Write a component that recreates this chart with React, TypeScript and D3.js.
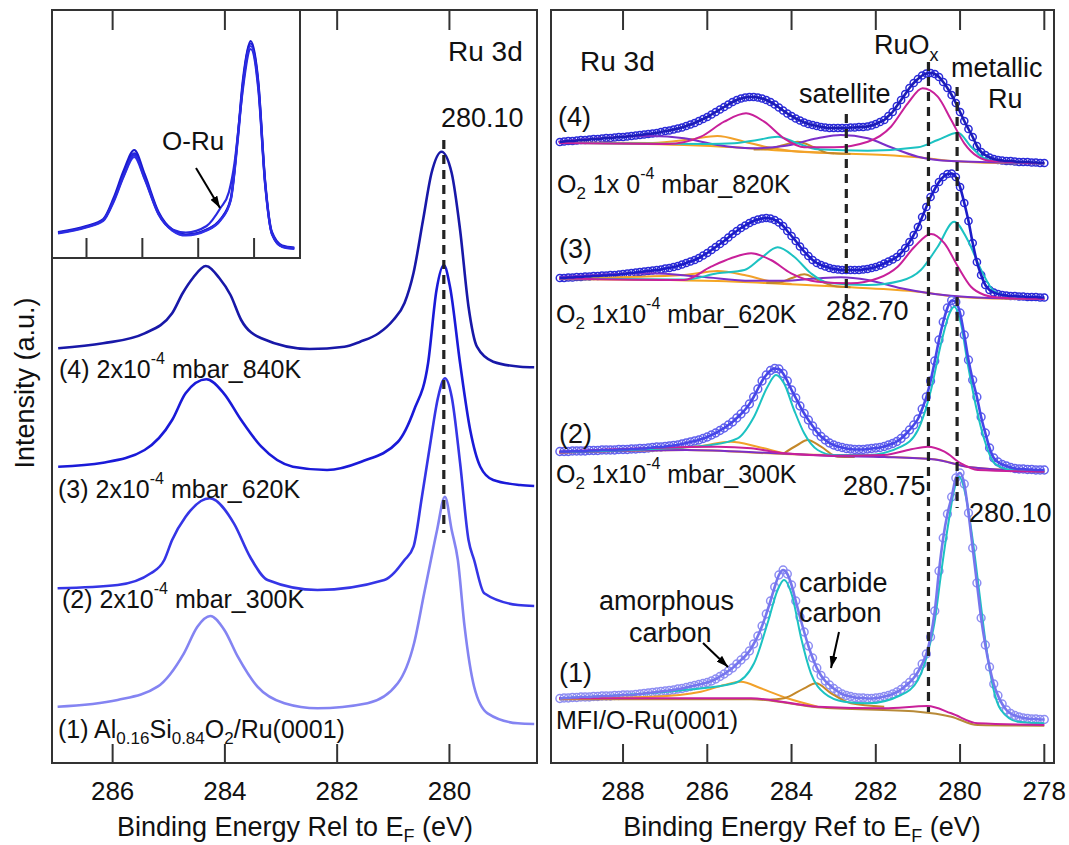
import React from 'react';
import * as d3 from 'd3';

const FONT = '"Liberation Sans", Arial, Helvetica, sans-serif';

// ---- left panel: Ru 3d, binding energy (eV) vs intensity (offset a.u.)
const ticksLeft = [286, 284, 282, 280];
const leftColors = ['#1818a8', '#1a1ad8', '#3535e6', '#8484f2'];

const left4 = [[286.97,41.47],[286.17,41.97],[285.43,42.97],[284.94,44.97],[284.75,47.0],[284.57,48.5],[284.34,49.7],[284.10,48.5],[283.90,46.8],[283.71,44.3],[283.35,42.47],[282.49,41.4],[281.87,41.63],[281.59,42.13],[281.26,42.97],[281.0,44.3],[280.8,46.0],[280.64,49.0],[280.47,54.3],[280.32,58.97],[280.14,61.13],[279.96,59.0],[279.81,53.3],[279.66,45.63],[279.51,41.63],[279.22,40.13],[278.74,39.63],[278.49,39.57]];
const left3 = [[286.97,29.63],[286.17,30.03],[285.43,31.3],[284.94,34.3],[284.70,36.97],[284.33,38.37],[284.02,36.97],[283.71,34.3],[283.35,31.63],[282.79,29.63],[282.18,29.3],[281.57,30.13],[280.92,32.1],[280.63,35.3],[280.38,40.0],[280.23,47.3],[280.10,49.8],[279.99,47.63],[279.81,39.97],[279.63,33.3],[279.45,29.63],[279.22,28.3],[278.74,27.8],[278.49,27.7]];
const left2 = [[286.98,17.47],[285.91,17.8],[285.32,18.97],[285.08,20.3],[284.94,22.3],[284.70,24.63],[284.27,26.47],[283.84,23.97],[283.55,20.6],[283.24,18.3],[282.35,17.3],[281.16,18.3],[280.80,20.3],[280.64,21.63],[280.49,26.63],[280.35,31.63],[280.20,36.63],[280.08,38.47],[279.96,36.63],[279.81,30.0],[279.66,22.3],[279.56,20.3],[279.38,16.97],[278.78,15.8],[278.49,15.7]];
const left1 = [[286.98,5.63],[285.91,6.3],[285.20,7.63],[284.73,10.97],[284.49,13.63],[284.26,14.7],[284.01,13.3],[283.77,10.63],[283.42,7.63],[282.94,5.97],[282.35,5.47],[281.46,5.97],[280.92,7.97],[280.63,11.97],[280.45,16.97],[280.33,20.3],[280.22,23.3],[280.08,26.63],[279.96,23.3],[279.85,20.3],[279.73,13.63],[279.56,7.63],[279.32,4.97],[278.78,3.97],[278.49,3.9]];

// inset: the four spectra overlaid
const insetA = [[287.02,2.53],[286.01,3.13],[285.40,3.8],[285.03,5.8],[284.66,8.47],[284.29,10.47],[283.92,8.13],[283.42,4.47],[282.93,2.8],[282.44,2.3],[281.70,2.8],[281.21,3.8],[280.84,5.8],[280.59,11.8],[280.40,17.47],[280.12,21.47],[279.85,17.47],[279.60,7.47],[279.36,2.47],[278.99,1.13],[278.56,0.97]];
const insetB = [[287.02,2.6],[286.01,3.2],[285.40,3.9],[285.03,6.0],[284.66,8.8],[284.29,10.8],[283.92,8.4],[283.42,4.6],[282.93,2.85],[282.44,2.35],[281.70,2.85],[281.21,3.85],[280.84,5.9],[280.59,12.0],[280.40,17.8],[280.12,21.7],[279.85,17.7],[279.60,7.6],[279.36,2.6],[278.99,1.25],[278.56,1.05]];
const insetC = [[287.02,2.45],[286.01,3.05],[285.40,3.7],[285.03,5.6],[284.66,8.2],[284.29,10.1],[283.92,7.9],[283.42,4.35],[282.93,2.75],[282.44,2.25],[281.70,2.75],[281.21,3.75],[280.84,5.7],[280.59,11.6],[280.40,17.2],[280.12,21.2],[279.85,17.2],[279.60,7.3],[279.36,2.4],[278.99,1.1],[278.56,0.9]];
const insetD = [[287.02,2.5],[286.01,3.1],[285.40,3.8],[285.03,5.7],[284.66,8.3],[284.29,10.3],[283.92,8.0],[283.42,4.4],[282.93,2.85],[282.44,2.55],[281.70,3.2],[281.21,4.97],[280.90,6.6],[280.70,9.5],[280.50,14.5],[280.40,16.9],[280.12,20.9],[279.85,16.9],[279.60,7.2],[279.36,2.4],[278.99,1.15],[278.56,1.0]];
const insetColors = ['#2222dd', '#1a1ad0', '#3030e8', '#2a2ae0'];

// ---- right panel: fitted spectra, data sampled every 0.1 eV from 289.5 to 278.0
const ticksRight = [288, 286, 284, 282, 280, 278];
const gridE = d3.range(116).map(i => +(289.5 - 0.1 * i).toFixed(1));

const data4 = [62.1,62.15,62.2,62.2,62.25,62.3,62.3,62.35,62.4,62.4,62.45,62.5,62.5,62.55,62.6,62.6,62.65,62.7,62.75,62.8,62.85,62.9,62.95,63.0,63.1,63.2,63.25,63.35,63.45,63.55,63.7,63.85,64.0,64.2,64.4,64.6,64.85,65.1,65.35,65.6,65.85,66.1,66.3,66.45,66.55,66.6,66.6,66.55,66.45,66.3,66.1,65.85,65.55,65.25,64.95,64.7,64.45,64.25,64.05,63.9,63.8,63.7,63.6,63.55,63.5,63.5,63.5,63.5,63.5,63.55,63.55,63.6,63.6,63.65,63.75,63.9,64.1,64.3,64.7,65.1,65.7,66.3,66.9,67.5,68.0,68.4,68.75,68.95,69.0,68.9,68.6,68.1,67.5,66.8,66.0,65.1,64.2,63.4,62.6,61.7,61.1,60.8,60.55,60.4,60.3,60.25,60.2,60.2,60.15,60.1,60.1,60.1,60.05,60.05,60.0,60.0];
const data3 = [48.5,48.5,48.55,48.55,48.6,48.6,48.65,48.65,48.7,48.7,48.75,48.75,48.8,48.8,48.85,48.9,48.95,49.0,49.05,49.1,49.15,49.2,49.25,49.3,49.35,49.45,49.5,49.6,49.7,49.85,50.0,50.15,50.3,50.5,50.75,51.0,51.3,51.6,51.9,52.2,52.55,52.9,53.2,53.5,53.75,54.0,54.2,54.35,54.45,54.5,54.45,54.3,54.05,53.7,53.2,52.7,52.2,51.65,51.15,50.7,50.3,50.0,49.8,49.65,49.5,49.4,49.35,49.3,49.3,49.3,49.3,49.3,49.35,49.4,49.5,49.6,49.75,49.95,50.15,50.35,50.6,51.0,51.5,52.1,52.8,53.6,54.6,55.6,56.6,57.4,58.1,58.6,58.9,58.95,58.6,57.6,56.0,54.2,52.0,50.1,48.8,47.8,47.3,47.05,46.9,46.8,46.75,46.7,46.7,46.65,46.65,46.6,46.6,46.6,46.55,46.55];
const data2 = [31.15,31.15,31.15,31.2,31.2,31.2,31.2,31.25,31.25,31.25,31.3,31.3,31.3,31.3,31.35,31.35,31.35,31.4,31.4,31.45,31.45,31.5,31.55,31.6,31.6,31.65,31.7,31.75,31.8,31.9,32.0,32.1,32.2,32.3,32.45,32.6,32.8,33.0,33.25,33.5,33.8,34.1,34.5,34.9,35.35,35.9,36.6,37.4,38.2,38.8,39.25,39.45,39.4,38.95,38.2,37.3,36.5,35.7,34.95,34.3,33.7,33.1,32.65,32.3,32.0,31.8,31.65,31.55,31.45,31.4,31.35,31.35,31.35,31.4,31.45,31.5,31.55,31.65,31.8,31.95,32.15,32.45,32.85,33.3,33.8,34.4,35.4,36.6,38.2,40.2,42.3,44.1,45.5,46.25,46.1,45.0,42.8,40.3,38.3,36.6,34.6,33.0,31.5,30.5,30.1,29.85,29.7,29.55,29.45,29.4,29.4,29.35,29.35,29.3,29.3,29.3];
const data1 = [6.45,6.5,6.5,6.55,6.55,6.6,6.6,6.6,6.65,6.65,6.7,6.7,6.7,6.75,6.75,6.8,6.8,6.8,6.85,6.9,6.95,7.0,7.05,7.1,7.15,7.2,7.25,7.3,7.4,7.45,7.55,7.65,7.75,7.85,7.95,8.05,8.2,8.4,8.65,8.9,9.2,9.5,9.9,10.3,10.7,11.2,11.9,12.7,13.7,14.9,16.2,17.6,18.8,19.3,18.9,17.8,16.2,14.6,13.1,11.7,10.5,9.5,8.75,8.2,7.8,7.45,7.15,6.9,6.75,6.65,6.55,6.5,6.5,6.45,6.45,6.5,6.55,6.65,6.75,6.9,7.1,7.35,7.7,8.05,8.5,9.1,9.9,10.9,12.6,15.2,19.2,22.5,24.9,26.6,28.5,29.0,27.9,25.0,21.5,18.0,14.5,11.8,9.6,7.9,6.75,5.9,5.3,4.95,4.75,4.6,4.5,4.45,4.4,4.4,4.35,4.35];

// fit components (E, intensity) for each spectrum
const base4 = [[289.52,62.03],[286.55,61.8],[285.36,61.57],[284.18,61.23],[282.99,60.97],[281.80,60.8],[281.0,60.57],[280.21,60.2],[279.42,60.03],[278.0,59.97]];
const mag4 = [[289.52,62.0],[286.94,61.9],[286.15,62.63],[285.60,64.13],[285.08,64.97],[284.65,64.13],[284.18,62.47],[283.70,61.57],[282.99,61.57],[282.19,62.13],[281.64,63.63],[281.24,65.97],[280.89,67.47],[280.53,66.63],[280.21,64.3],[279.90,61.97],[279.58,60.63],[279.26,60.2],[278.0,59.97]];
const cyan4 = [[289.52,62.0],[286.0,61.9],[285.36,61.97],[284.81,62.3],[284.33,62.63],[283.86,61.97],[283.38,61.37],[282.19,61.23],[281.0,61.57],[280.53,62.3],[280.05,63.03],[279.74,61.63],[279.42,60.47],[279.03,60.13],[278.0,59.97]];
const purp4 = [[289.54,62.13],[287.34,62.7],[286.55,62.47],[285.76,61.8],[284.96,61.47],[284.18,61.7],[283.38,62.47],[282.83,62.8],[282.19,62.47],[281.64,61.57],[281.0,60.63],[280.21,60.2],[278.0,59.97]];
const amor4 = [[289.52,62.03],[287.3,62.0],[286.39,62.37],[285.76,62.7],[285.12,62.13],[284.57,61.57],[284.0,61.2],[282.99,60.97]];
const carb4 = [[284.9,61.35],[284.57,61.4],[284.18,61.8],[283.86,62.13],[283.46,61.57],[283.14,61.0],[282.6,60.9]];

const base3 = [[289.52,48.4],[285.76,48.2],[284.18,47.9],[282.59,47.57],[281.0,47.13],[280.21,46.7],[279.42,46.47],[278.0,46.4]];
const mag3 = [[289.52,48.45],[286.55,48.3],[285.91,49.63],[285.44,50.47],[284.96,50.97],[284.49,50.3],[284.01,48.97],[283.38,48.13],[282.59,47.97],[281.95,48.47],[281.48,49.63],[281.08,51.63],[280.69,52.9],[280.37,51.97],[280.05,49.63],[279.74,47.63],[279.42,46.8],[279.1,46.55],[278.0,46.4]];
const cyan3 = [[289.52,48.45],[286.5,48.35],[285.76,48.97],[285.12,49.3],[284.73,50.47],[284.33,51.57],[283.94,50.63],[283.54,48.97],[283.14,48.03],[282.19,47.8],[281.40,48.23],[280.93,49.3],[280.53,51.63],[280.14,54.13],[279.82,52.3],[279.50,49.3],[279.18,47.13],[278.79,46.63],[278.0,46.45]];
const purp3 = [[289.52,48.57],[287.34,48.97],[286.15,48.63],[284.96,48.23],[284.18,48.23],[283.38,48.47],[282.83,48.57],[282.19,48.3],[281.40,47.47],[280.61,46.9],[279.82,46.6],[278.0,46.4]];
const amor3 = [[289.0,48.5],[286.55,48.8],[285.76,49.2],[285.12,48.8],[284.57,48.23],[284.0,47.9]];
const carb3 = [[284.6,48.0],[284.33,48.03],[284.01,48.47],[283.70,48.87],[283.38,48.3],[282.99,47.7],[282.6,47.57]];

const base2 = [[289.52,31.03],[286.5,31.3],[284.18,30.9],[281.80,30.63],[280.61,30.37],[279.82,29.63],[278.0,29.13]];
const mag2 = [[289.52,31.13],[285.76,31.63],[284.96,31.47],[284.18,30.97],[282.99,30.73],[281.80,30.8],[281.16,31.37],[280.77,31.63],[280.37,31.13],[279.98,29.97],[279.58,29.3],[278.0,29.13]];
const cyan2 = [[289.52,31.1],[286.94,31.47],[285.91,31.8],[285.28,32.47],[284.89,34.63],[284.57,37.63],[284.37,38.8],[284.18,37.97],[283.94,35.3],[283.70,32.97],[283.38,31.3],[282.99,30.8],[282.19,30.8],[281.40,31.63],[281.0,33.3],[280.69,37.3],[280.45,41.97],[280.25,44.97],[280.14,45.63],[279.98,43.97],[279.82,39.97],[279.62,35.63],[279.42,32.3],[279.18,29.97],[278.79,29.3],[278.0,29.13]];
const purp2 = [[289.52,31.05],[286.5,31.3],[284.5,31.0],[283.0,30.7],[281.8,30.6],[280.6,30.35],[279.8,29.6],[278.0,29.13]];
const amor2 = [[287.3,31.37],[286.15,31.7],[285.44,32.13],[284.81,31.63],[284.18,30.97]];
const carb2 = [[284.18,30.97],[283.86,31.8],[283.62,32.3],[283.30,31.63],[282.91,30.63],[282.5,30.6]];

const base1 = [[289.52,6.37],[284.96,6.37],[283.38,5.57],[281.0,5.13],[280.21,4.63],[279.58,3.8],[278.0,3.73]];
const mag1 = [[289.52,6.47],[284.96,6.47],[283.38,5.63],[281.80,5.47],[280.77,5.7],[280.21,4.97],[279.58,3.97],[278.0,3.8]];
const cyan1 = [[289.52,6.47],[286.55,7.3],[285.36,7.97],[284.89,9.97],[284.57,13.97],[284.33,17.3],[284.18,18.3],[283.98,16.63],[283.78,12.63],[283.54,8.97],[283.22,6.97],[282.75,6.13],[282.19,5.97],[281.40,6.8],[281.0,8.3],[280.77,10.97],[280.61,13.97],[280.45,18.97],[280.29,23.63],[280.14,27.3],[280.02,28.63],[279.86,26.63],[279.70,22.3],[279.54,16.97],[279.38,11.63],[279.22,7.63],[279.03,5.3],[278.63,4.13],[278.0,3.97]];
const amor1 = [[289.52,6.45],[287.3,6.63],[286.15,7.13],[285.60,7.8],[285.20,8.13],[284.73,7.47],[284.10,6.47],[283.38,5.63]];
const carb1 = [[284.6,6.3],[284.18,6.47],[283.70,7.47],[283.42,7.97],[283.06,6.97],[282.59,5.97],[281.8,5.63]];

const spectra = [
  { data: data4, circle: '#2b2bd8', fit: '#1c1cb8', r: 3.6, parts: [base4, amor4, carb4, purp4, cyan4, mag4], baseColor: '#f5a623' },
  { data: data3, circle: '#2b2bd8', fit: '#1c1cc8', r: 3.6, parts: [base3, amor3, carb3, purp3, cyan3, mag3], baseColor: '#f5a623' },
  { data: data2, circle: '#6262ee', fit: '#4646e8', r: 3.9, parts: [base2, amor2, carb2, purp2, cyan2, mag2], baseColor: '#f5a623' },
  { data: data1, circle: '#8e8ef3', fit: '#7676ee', r: 3.9, parts: [base1, amor1, carb1, null, cyan1, mag1], baseColor: '#b88a38' },
];
const partColors = ['', '#f2a12a', '#c4882a', '#7b2fc9', '#1cc2c2', '#c8209a'];

const pathOf = (pts, xs, ys) =>
  d3.line().x(d => xs(d[0])).y(d => ys(d[1])).curve(d3.curveMonotoneX)(pts);

const Sup = ({ t }) => (
  <>
    <tspan dy={-14} fontSize={16}>{t}</tspan>
    <tspan dy={14}>{'\u00a0'}</tspan>
  </>
);

export default function App() {
  const xL = d3.scaleLinear().domain([287.08, 278.44]).range([52, 537]);
  const yL = d3.scaleLinear().domain([0, 75.3]).range([763, 10]);
  const xR = d3.scaleLinear().domain([289.71, 277.77]).range([551, 1054]);
  const yR = yL;
  const xI = d3.scaleLinear().domain([287.21, 278.37]).range([52.7, 299.6]);
  const yI = d3.scaleLinear().domain([0, 24.8]).range([258, 10]);

  const frame = '#333';
  const dash = { stroke: '#222', strokeWidth: 3.2, strokeDasharray: '9,6' };

  return (
    <svg width={1069} height={845} style={{ position: 'absolute', left: 0, top: 0, background: '#fff' }}
      fontFamily={FONT} fill="#111">
      <defs>
        <marker id="ah" viewBox="0 0 12 8" refX={12} refY={4} markerWidth={12} markerHeight={8}
          markerUnits="userSpaceOnUse" orient="auto">
          <path d="M0,0 L12,4 L0,8 z" fill="#000" />
        </marker>
      </defs>
      <rect x={0} y={0} width={1069} height={845} fill="#fff" />

      {/* ---------- left panel ---------- */}
      {[left1, left2, left3, left4].map((pts, i) => (
        <path key={`l${i}`} d={pathOf(pts, xL, yL)} fill="none" stroke={leftColors[3 - i]} strokeWidth={2.6} />
      ))}
      <line x1={xL(280.1)} x2={xL(280.1)} y1={140} y2={533} {...dash} />

      {/* inset */}
      <rect x={52} y={10} width={248} height={248} fill="#fff" stroke={frame} strokeWidth={2} />
      {[insetA, insetB, insetC, insetD].map((pts, i) => (
        <path key={`in${i}`} d={pathOf(pts, xI, yI)} fill="none" stroke={insetColors[i]} strokeWidth={2.2} />
      ))}
      {ticksLeft.map(t => (
        <line key={`it${t}`} x1={xI(t)} x2={xI(t)} y1={258} y2={238} stroke={frame} strokeWidth={2} />
      ))}
      <text x={162} y={150} fontSize={26}>O-Ru</text>
      <line x1={196} y1={168} x2={220} y2={208} stroke="#000" strokeWidth={2} markerEnd="url(#ah)" />

      <rect x={52} y={10} width={485} height={753} fill="none" stroke={frame} strokeWidth={2} />
      {ticksLeft.map(t => (
        <g key={`lt${t}`}>
          <line x1={xL(t)} x2={xL(t)} y1={763} y2={744} stroke={frame} strokeWidth={2} />
          <line x1={xL(t)} x2={xL(t)} y1={10} y2={30} stroke={frame} strokeWidth={2} />
          <text x={xL(t)} y={800} fontSize={26} textAnchor="middle">{t}</text>
        </g>
      ))}
      <text x={448} y={61} fontSize={28}>Ru 3d</text>
      <text x={441} y={127} fontSize={27}>280.10</text>
      <text x={59} y={378} fontSize={25}>(4) 2x10<Sup t="-4" />mbar_840K</text>
      <text x={58} y={498} fontSize={25}>(3) 2x10<Sup t="-4" />mbar_620K</text>
      <text x={62} y={608} fontSize={25}>(2) 2x10<Sup t="-4" />mbar_300K</text>
      <text x={58} y={738} fontSize={25}>
        (1) Al<tspan dy={6} fontSize={17}>0.16</tspan><tspan dy={-6}>Si</tspan>
        <tspan dy={6} fontSize={17}>0.84</tspan><tspan dy={-6}>O</tspan>
        <tspan dy={6} fontSize={17}>2</tspan><tspan dy={-6}>/Ru(0001)</tspan>
      </text>
      <text transform="translate(34,383) rotate(-90)" fontSize={27} textAnchor="middle">Intensity (a.u.)</text>
      <text x={295} y={836} fontSize={27} textAnchor="middle">
        Binding Energy Rel to E<tspan dy={6} fontSize={18}>F</tspan><tspan dy={-6}> (eV)</tspan>
      </text>

      {/* ---------- right panel ---------- */}
      {spectra.map((s, si) => (
        <g key={`s${si}`}>
          {s.data.map((v, i) => (
            <circle key={i} cx={xR(gridE[i])} cy={yR(v)} r={s.r} fill="none" stroke={s.circle} strokeWidth={1.5} />
          ))}
          {s.parts.map((p, pi) => p && (
            <path key={pi} d={pathOf(p, xR, yR)} fill="none"
              stroke={pi === 0 ? s.baseColor : partColors[pi]} strokeWidth={2} />
          ))}
          <path d={pathOf(s.data.map((v, i) => [gridE[i], v]), xR, yR)} fill="none" stroke={s.fit} strokeWidth={2.6} />
        </g>
      ))}
      <line x1={xR(282.7)} x2={xR(282.7)} y1={114} y2={302} {...dash} />
      <line x1={xR(280.75)} x2={xR(280.75)} y1={62} y2={712} {...dash} />
      <line x1={xR(280.07)} x2={xR(280.07)} y1={87} y2={508} {...dash} />

      <rect x={551} y={10} width={503} height={753} fill="none" stroke={frame} strokeWidth={2} />
      {ticksRight.map(t => (
        <g key={`rt${t}`}>
          <line x1={xR(t)} x2={xR(t)} y1={763} y2={744} stroke={frame} strokeWidth={2} />
          <line x1={xR(t)} x2={xR(t)} y1={10} y2={30} stroke={frame} strokeWidth={2} />
          <text x={xR(t)} y={800} fontSize={26} textAnchor="middle">{t}</text>
        </g>
      ))}
      <text x={580} y={71} fontSize={28}>Ru 3d</text>
      <text x={874} y={54} fontSize={27}>RuO<tspan dy={7} fontSize={18}>x</tspan></text>
      <text x={951} y={77} fontSize={27}>metallic</text>
      <text x={988} y={108} fontSize={27}>Ru</text>
      <text x={799} y={103} fontSize={27}>satellite</text>
      <text x={558} y={126} fontSize={27}>(4)</text>
      <text x={557} y={193} fontSize={25}>O<tspan dy={6} fontSize={17}>2</tspan><tspan dy={-6}> 1x 0</tspan><Sup t="-4" />mbar_820K</text>
      <text x={559} y={258} fontSize={27}>(3)</text>
      <text x={556} y={323} fontSize={25}>O<tspan dy={6} fontSize={17}>2</tspan><tspan dy={-6}> 1x10</tspan><Sup t="-4" />mbar_620K</text>
      <text x={826} y={320} fontSize={27}>282.70</text>
      <text x={559} y={443} fontSize={27}>(2)</text>
      <text x={556} y={483} fontSize={25}>O<tspan dy={6} fontSize={17}>2</tspan><tspan dy={-6}> 1x10</tspan><Sup t="-4" />mbar_300K</text>
      <text x={843} y={495} fontSize={27}>280.75</text>
      <text x={969} y={522} fontSize={27}>280.10</text>
      <text x={599} y={610} fontSize={27}>amorphous</text>
      <text x={629} y={642} fontSize={27}>carbon</text>
      <text x={799} y={592} fontSize={27}>carbide</text>
      <text x={799} y={622} fontSize={27}>carbon</text>
      <line x1={703} y1={643} x2={728} y2={667} stroke="#000" strokeWidth={2} markerEnd="url(#ah)" />
      <line x1={839} y1={632} x2={831} y2={668} stroke="#000" strokeWidth={2} markerEnd="url(#ah)" />
      <text x={559} y={682} fontSize={27}>(1)</text>
      <text x={556} y={729} fontSize={25}>MFI/O-Ru(0001)</text>
      <text x={802} y={836} fontSize={27} textAnchor="middle">
        Binding Energy Ref to E<tspan dy={6} fontSize={18}>F</tspan><tspan dy={-6}> (eV)</tspan>
      </text>
    </svg>
  );
}
